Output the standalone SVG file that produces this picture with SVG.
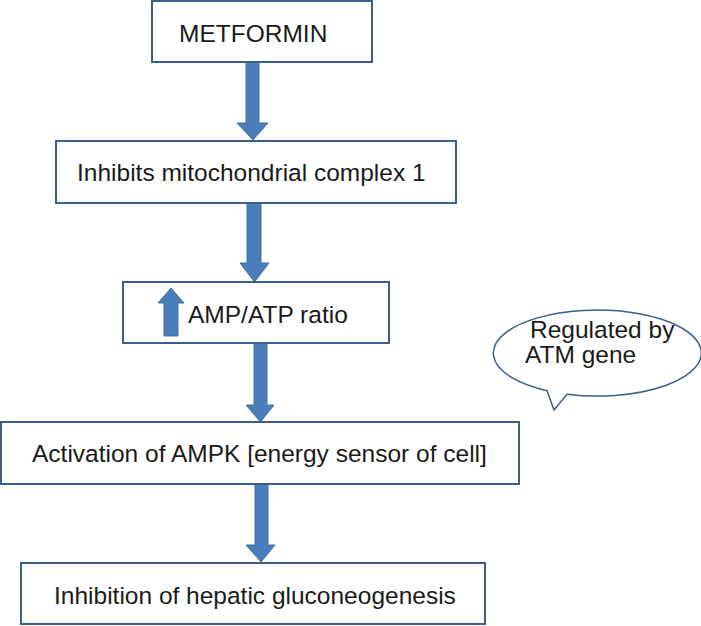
<svg xmlns="http://www.w3.org/2000/svg" width="701" height="626" viewBox="0 0 701 626">
<style>
.box{fill:#ffffff;stroke:#3B5E8A;stroke-width:2}
.arr{fill:#4A7EBB;stroke:#41719C;stroke-width:1}
.t{font-family:"Liberation Sans",Arial,sans-serif;font-size:24.5px;fill:#1a1a1a}
</style>
<rect width="701" height="626" fill="#ffffff"/>
<g id="connectors">
<polygon class="arr" points="246,62 259,62 259,123 268,123 253,140 237,123 246,123"/>
<polygon class="arr" points="247,203 261,203 261,263 269,263 254.5,282 240,263 247,263"/>
<polygon class="arr" points="254,343 267,343 267,405 274,405 260.5,422 246,405 254,405"/>
<polygon class="arr" points="255,484 268,484 268,545 275,545 261,562 246,545 255,545"/>
</g>
<g id="metformin">
<rect class="box" x="152" y="1" width="220" height="61"/>
<text class="t" x="179" y="42">METFORMIN</text>
</g>
<g id="complex1">
<rect class="box" x="56" y="141" width="400" height="62"/>
<text class="t" x="77" y="181">Inhibits mitochondrial complex 1</text>
</g>
<g id="ampatp">
<rect class="box" x="123" y="282" width="266" height="61"/>
<polygon class="arr" points="164,336 178,336 178,303 184,303 171,288 158,303 164,303"/>
<text class="t" x="188" y="323">AMP/ATP ratio</text>
</g>
<g id="ampk">
<rect class="box" x="1" y="422" width="518" height="62"/>
<text class="t" x="32" y="462">Activation of AMPK [energy sensor of cell]</text>
</g>
<g id="gluconeogenesis">
<rect class="box" x="21" y="563" width="464" height="61"/>
<text class="t" x="54" y="604">Inhibition of hepatic gluconeogenesis</text>
</g>
<g id="callout">
<path d="M 547 390.7 A 104 43 0 1 1 567 394.2 L 554 410 Z" fill="#ffffff" stroke="#3B5E8A" stroke-width="1.5"/>
<text class="t" x="530" y="338">Regulated by</text>
<text class="t" x="525" y="363">ATM gene</text>
</g>
</svg>
